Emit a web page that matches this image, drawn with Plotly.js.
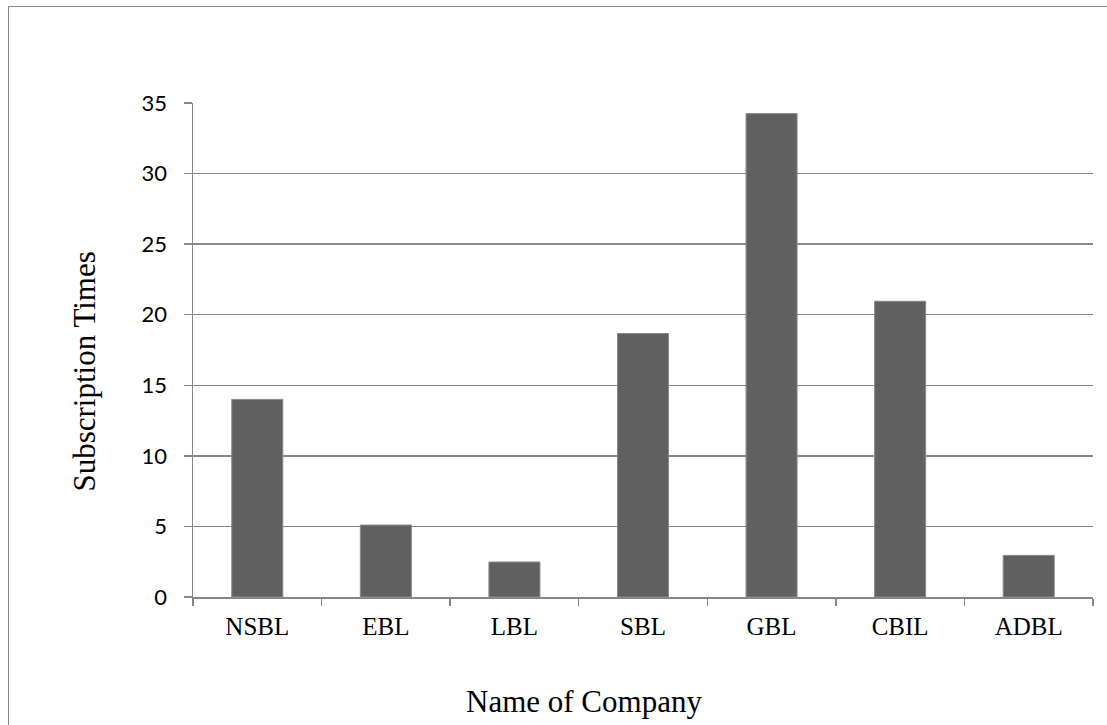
<!DOCTYPE html>
<html>
<head>
<meta charset="utf-8">
<script src="https://cdn.plot.ly/plotly-3.0.1.min.js"></script>
<style>
  html, body { margin: 0; padding: 0; background: #fff; }
  #wrap { position: relative; width: 1107px; height: 725px; overflow: hidden; }
  #chart { position: absolute; left: 0; top: 0; width: 1107px; height: 725px; }
  #frame { position: absolute; left: 8px; top: 6px; width: 1200px; height: 900px;
           border: 1.5px solid #8c8c8c; pointer-events: none; box-sizing: border-box; }
</style>
</head>
<body>
<div id="wrap">
  <div id="chart"></div>
  <div id="frame"></div>
</div>
<script>
const companies = ["NSBL", "EBL", "LBL", "SBL", "GBL", "CBIL", "ADBL"];
const subscriptionTimes = [14.0, 5.1, 2.48, 18.67, 34.25, 20.95, 2.95];
const yTicks = [0, 5, 10, 15, 20, 25, 30, 35];
const xTitle = "Name of Company";
const yTitle = "Subscription Times";

const trace = {
  type: "bar",
  x: companies,
  y: subscriptionTimes,
  marker: { color: "#606060", line: { color: "#8a8a8a", width: 1 } },
  hoverinfo: "x+y"
};

const gridGray = "#878787";

const layout = {
  width: 1107,
  height: 725,
  margin: { l: 193, r: 14, t: 103, b: 128 },
  paper_bgcolor: "rgba(0,0,0,0)",
  plot_bgcolor: "rgba(0,0,0,0)",
  showlegend: false,
  bargap: 0.603,
  xaxis: {
    type: "category",
    tickson: "boundaries",
    ticks: "outside",
    ticklen: 7,
    tickcolor: gridGray,
    tickwidth: 1.5,
    showline: true,
    linecolor: gridGray,
    linewidth: 1.5,
    showgrid: false,
    zeroline: false,
    tickfont: { family: "Liberation Serif, Times New Roman, serif", size: 25, color: "#000" },
    ticklabelstandoff: 6,
    fixedrange: true
  },
  yaxis: {
    range: [0, 35],
    tickvals: yTicks,
    ticktext: yTicks.map(String),
    ticks: "outside",
    ticklen: 8,
    tickcolor: gridGray,
    tickwidth: 1.5,
    showline: true,
    linecolor: gridGray,
    linewidth: 1.5,
    showgrid: true,
    gridcolor: gridGray,
    gridwidth: 1.5,
    zeroline: false,
    tickfont: { family: "Lato, Open Sans, sans-serif", size: 22, color: "#000" },
    ticklabelstandoff: 12,
    fixedrange: true
  },
  annotations: [
    {
      text: xTitle, xref: "paper", yref: "paper",
      x: 0.434, y: -0.211, xanchor: "center", yanchor: "middle",
      showarrow: false,
      font: { family: "Liberation Serif, Times New Roman, serif", size: 31, color: "#000" }
    },
    {
      text: yTitle, xref: "paper", yref: "paper",
      x: -0.1208, y: 0.457, xanchor: "center", yanchor: "middle",
      textangle: -90, showarrow: false,
      font: { family: "Liberation Serif, Times New Roman, serif", size: 31, color: "#000" }
    }
  ]
};

Plotly.newPlot("chart", [trace], layout, { displayModeBar: false, staticPlot: true });
</script>
</body>
</html>
